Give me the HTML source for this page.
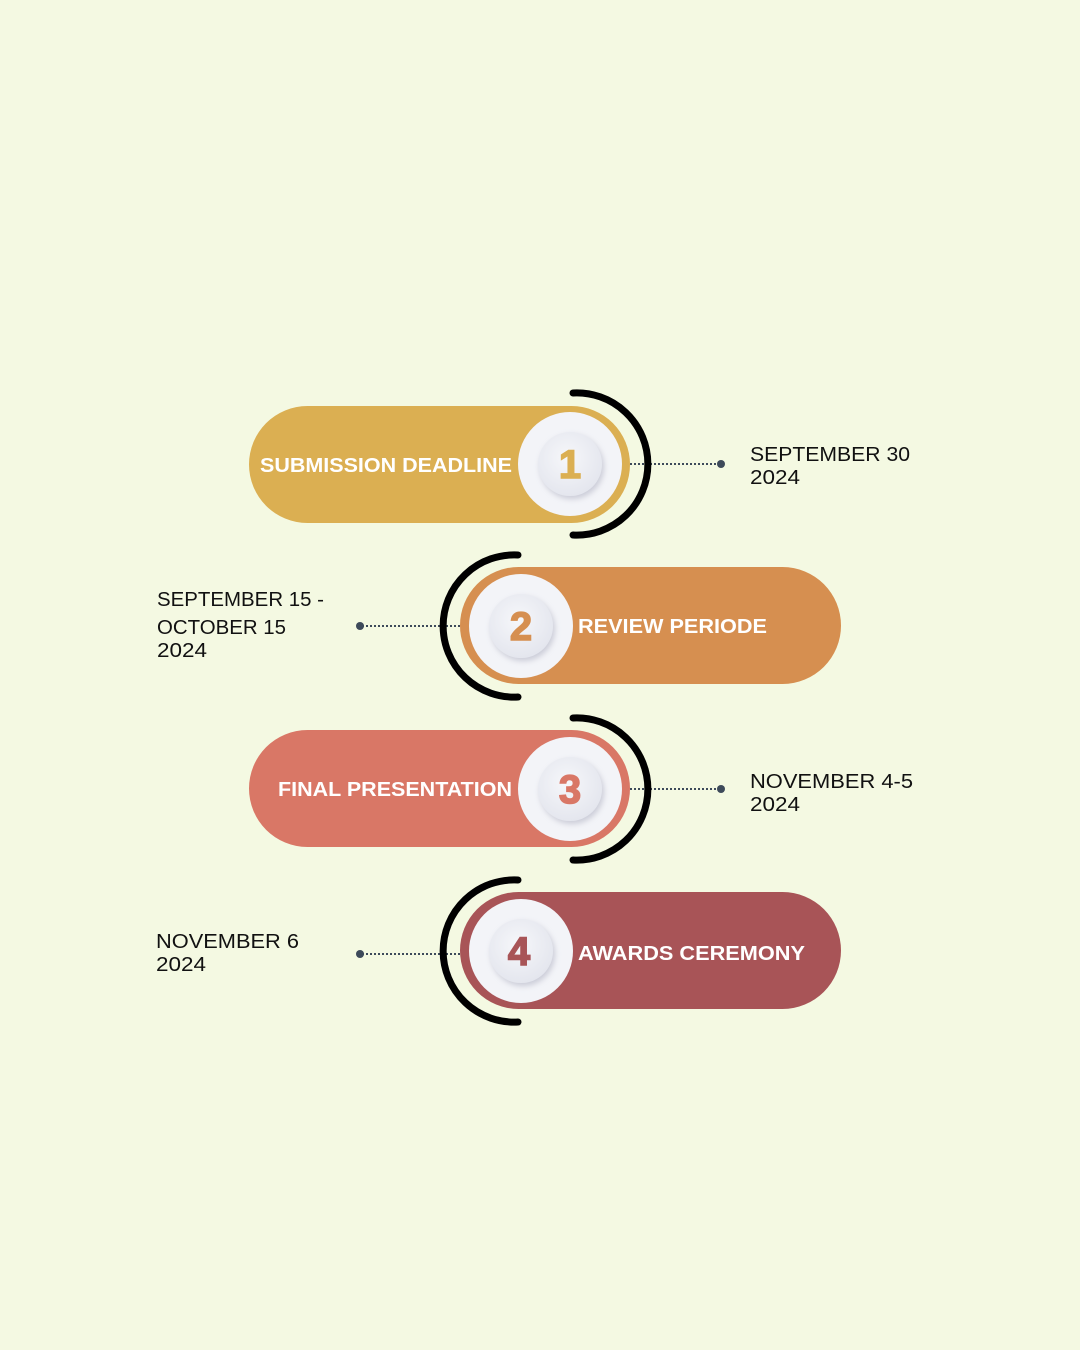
<!DOCTYPE html>
<html><head><meta charset="utf-8"><style>
html,body{margin:0;padding:0;background:#F4F9E2;}
svg{display:block;font-family:"Liberation Sans",sans-serif;}
</style></head><body>
<svg width="1080" height="1350" viewBox="0 0 1080 1350">
<defs>
<radialGradient id="g1" cx="0.45" cy="0.4" r="0.6"><stop offset="0" stop-color="#F6F7FA"/><stop offset="1" stop-color="#E4E6EE"/></radialGradient>
<filter id="sh" x="-30%" y="-30%" width="160%" height="160%"><feDropShadow dx="2" dy="3" stdDeviation="3" flood-color="#9a9cb0" flood-opacity="0.45"/></filter>
</defs>
<rect width="1080" height="1350" fill="#F4F9E2"/>

<!-- Step 1 -->
<g>
<line x1="630" y1="464" x2="720" y2="464" stroke="#3d4a5a" stroke-width="2" stroke-dasharray="2 2"/>
<circle cx="721" cy="464" r="4" fill="#3d4a5a"/>
<rect x="249" y="406" width="381" height="117" rx="58.5" fill="#DBAF52"/>
<path d="M573 393 A71.1 71.1 0 1 1 573 535" fill="none" stroke="#000" stroke-width="7" stroke-linecap="round"/>
<circle cx="570" cy="464" r="52" fill="#F3F4F8"/>
<circle cx="570" cy="464" r="32" fill="url(#g1)" filter="url(#sh)"/>
<text x="570" y="478" text-anchor="middle" font-size="40" font-weight="bold" fill="#DBAF52" stroke="#DBAF52" stroke-width="1.5">1</text>
<text x="260" y="472" font-size="20" font-weight="bold" fill="#fff" textLength="252" lengthAdjust="spacingAndGlyphs">SUBMISSION DEADLINE</text>
<text x="750" y="461" font-size="20" fill="#111" textLength="160" lengthAdjust="spacingAndGlyphs">SEPTEMBER 30</text>
<text x="750" y="484" font-size="20" fill="#111" textLength="50" lengthAdjust="spacingAndGlyphs">2024</text>
</g>

<!-- Step 2 -->
<g>
<line x1="362" y1="626" x2="460" y2="626" stroke="#3d4a5a" stroke-width="2" stroke-dasharray="2 2"/>
<circle cx="360" cy="626" r="4" fill="#3d4a5a"/>
<rect x="460" y="567" width="381" height="117" rx="58.5" fill="#D68F50"/>
<path d="M518 555 A71.1 71.1 0 1 0 518 697" fill="none" stroke="#000" stroke-width="7" stroke-linecap="round"/>
<circle cx="521" cy="626" r="52" fill="#F3F4F8"/>
<circle cx="521" cy="626" r="32" fill="url(#g1)" filter="url(#sh)"/>
<text x="521" y="640" text-anchor="middle" font-size="40" font-weight="bold" fill="#D68F50" stroke="#D68F50" stroke-width="1.5">2</text>
<text x="578" y="633" font-size="20" font-weight="bold" fill="#fff" textLength="189" lengthAdjust="spacingAndGlyphs">REVIEW PERIODE</text>
<text x="157" y="606" font-size="20" fill="#111" textLength="167" lengthAdjust="spacingAndGlyphs">SEPTEMBER 15 -</text>
<text x="157" y="634" font-size="20" fill="#111" textLength="129" lengthAdjust="spacingAndGlyphs">OCTOBER 15</text>
<text x="157" y="657" font-size="20" fill="#111" textLength="50" lengthAdjust="spacingAndGlyphs">2024</text>
</g>

<!-- Step 3 -->
<g>
<line x1="630" y1="789" x2="720" y2="789" stroke="#3d4a5a" stroke-width="2" stroke-dasharray="2 2"/>
<circle cx="721" cy="789" r="4" fill="#3d4a5a"/>
<rect x="249" y="730" width="381" height="117" rx="58.5" fill="#D97766"/>
<path d="M573 718 A71.1 71.1 0 1 1 573 860" fill="none" stroke="#000" stroke-width="7" stroke-linecap="round"/>
<circle cx="570" cy="789" r="52" fill="#F3F4F8"/>
<circle cx="570" cy="789" r="32" fill="url(#g1)" filter="url(#sh)"/>
<text x="570" y="803" text-anchor="middle" font-size="40" font-weight="bold" fill="#D97766" stroke="#D97766" stroke-width="1.5">3</text>
<text x="278" y="796" font-size="20" font-weight="bold" fill="#fff" textLength="234" lengthAdjust="spacingAndGlyphs">FINAL PRESENTATION</text>
<text x="750" y="788" font-size="20" fill="#111" textLength="163" lengthAdjust="spacingAndGlyphs">NOVEMBER 4-5</text>
<text x="750" y="811" font-size="20" fill="#111" textLength="50" lengthAdjust="spacingAndGlyphs">2024</text>
</g>

<!-- Step 4 -->
<g>
<line x1="362" y1="954" x2="460" y2="954" stroke="#3d4a5a" stroke-width="2" stroke-dasharray="2 2"/>
<circle cx="360" cy="954" r="4" fill="#3d4a5a"/>
<rect x="460" y="892" width="381" height="117" rx="58.5" fill="#A85457"/>
<path d="M518 880 A71.1 71.1 0 1 0 518 1022" fill="none" stroke="#000" stroke-width="7" stroke-linecap="round"/>
<circle cx="521" cy="951" r="52" fill="#F3F4F8"/>
<circle cx="521" cy="951" r="32" fill="url(#g1)" filter="url(#sh)"/>
<text x="519" y="965" text-anchor="middle" font-size="40" font-weight="bold" fill="#A85457" stroke="#A85457" stroke-width="1.5">4</text>
<text x="578" y="960" font-size="20" font-weight="bold" fill="#fff" textLength="227" lengthAdjust="spacingAndGlyphs">AWARDS CEREMONY</text>
<text x="156" y="948" font-size="20" fill="#111" textLength="143" lengthAdjust="spacingAndGlyphs">NOVEMBER 6</text>
<text x="156" y="971" font-size="20" fill="#111" textLength="50" lengthAdjust="spacingAndGlyphs">2024</text>
</g>
</svg>
</body></html>
